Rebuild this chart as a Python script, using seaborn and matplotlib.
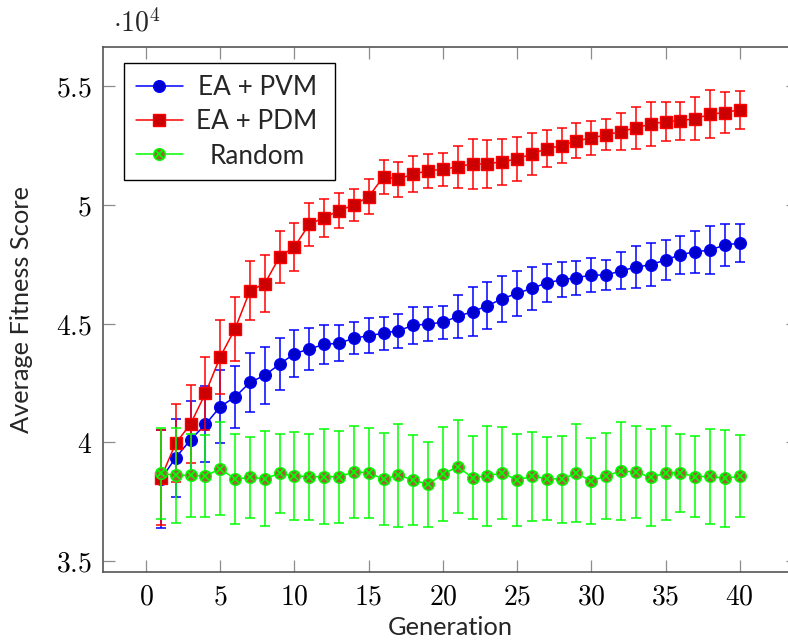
import numpy as np
import pandas as pd
import matplotlib
matplotlib.use("Agg")
import matplotlib.pyplot as plt
import seaborn as sns
from matplotlib.ticker import FuncFormatter
from matplotlib.offsetbox import HPacker, DrawingArea

# ---------------- data (average fitness) ----------------
generations = list(range(1, 41))

pvm_mean = [38450, 39350, 40110, 40750, 41500, 41910, 42520, 42820, 43290, 43730,
            43930, 44120, 44170, 44380, 44490, 44590, 44700, 44920, 44980, 45050,
            45300, 45500, 45750, 46040, 46270, 46480, 46710, 46840, 46930, 47040,
            47040, 47220, 47370, 47480, 47670, 47900, 48020, 48090, 48310, 48380]
pvm_err = [2050, 1650, 1630, 1600, 1550, 1300, 1250, 1200, 1100, 1000,
           880, 820, 750, 670, 750, 700, 720, 770, 720, 700,
           900, 1040, 1000, 970, 940, 900, 800, 730, 720, 720,
           650, 770, 880, 920, 830, 800, 880, 1000, 880, 800]

pdm_mean = [38500, 39960, 40770, 42060, 43600, 44780, 46380, 46680, 47810, 48230,
            49180, 49460, 49750, 49990, 50340, 51180, 51080, 51290, 51430, 51490,
            51600, 51720, 51720, 51810, 51930, 52140, 52360, 52490, 52690, 52810,
            52940, 53080, 53240, 53390, 53500, 53540, 53620, 53810, 53880, 54000]
pdm_err = [2000, 1650, 1630, 1540, 1550, 1350, 1240, 1200, 1100, 1000,
           900, 800, 750, 680, 750, 720, 740, 770, 720, 700,
           890, 1050, 1000, 970, 940, 900, 790, 720, 740, 720,
           650, 770, 880, 920, 830, 800, 900, 1000, 870, 800]

rnd_mean = [38690, 38610, 38610, 38580, 38890, 38450, 38520, 38470, 38690, 38580,
            38550, 38550, 38550, 38750, 38720, 38450, 38620, 38410, 38230, 38660,
            38970, 38510, 38590, 38710, 38410, 38570, 38470, 38450, 38690, 38370,
            38590, 38790, 38750, 38520, 38710, 38720, 38550, 38570, 38480, 38570]
rnd_err = [1900, 2000, 1760, 1730, 1970, 1900, 1700, 2000, 1680, 1850,
           1800, 2000, 1940, 1920, 1900, 1950, 2170, 1900, 1800, 1970,
           1960, 1740, 2100, 1940, 1920, 1870, 1740, 1830, 2060, 1800,
           1820, 2060, 1940, 2040, 1990, 1650, 1700, 1990, 2040, 1720]

series_names = ["EA + PVM", "EA + PDM", "Random"]
x_ticks = [0, 5, 10, 15, 20, 25, 30, 35, 40]
y_ticks = [35000, 40000, 45000, 50000, 55000]

# ---------------- style ----------------
sns.set_theme(style="ticks")
plt.rcParams['font.family'] = ['Lato', 'DejaVu Sans']
plt.rcParams['mathtext.fontset'] = 'cm'

W, H = 788, 640
fig = plt.figure(figsize=(W / 100, H / 100), dpi=100)
ax_l, ax_r, ax_t, ax_b = 103, 797.6, 47, 572
ax_w, ax_h = ax_r - ax_l, ax_b - ax_t
ax = fig.add_axes([ax_l / W, 1 - ax_b / H, ax_w / W, ax_h / H])

df = pd.DataFrame({
    "Generation": generations * 3,
    "Fitness": pvm_mean + pdm_mean + rnd_mean,
    "Err": pvm_err + pdm_err + rnd_err,
    "Series": [s for s in series_names for _ in generations],
})

styles = {
    "EA + PVM": dict(line="#0000FF", fill="#0000CC", marker="o", ms=8.4),
    "EA + PDM": dict(line="#FF0000", fill="#CC0000", marker="s", ms=8.6),
    "Random": dict(line="#00FF00", fill="#996633", marker="o", ms=8.4),
}

handles = []
for i, name in enumerate(series_names):
    st = styles[name]
    sub = df[df["Series"] == name]
    z = 2 + 3 * i
    ax.errorbar(sub["Generation"], sub["Fitness"], yerr=sub["Err"], fmt="none",
                ecolor=st["line"], elinewidth=1.1, capsize=3.8, capthick=1.1, zorder=z)
    sns.lineplot(data=sub, x="Generation", y="Fitness", ax=ax, color=st["line"],
                 lw=1.1, marker=st["marker"], markersize=st["ms"],
                 markerfacecolor=st["fill"], markeredgecolor=st["line"],
                 markeredgewidth=1.0, legend=False, zorder=z + 1, errorbar=None)
    main_line = ax.lines[-1]
    if name == "Random":
        sns.lineplot(data=sub, x="Generation", y="Fitness", ax=ax, color=st["line"],
                     lw=0, marker="x", markersize=5.8, markeredgecolor=st["line"],
                     markeredgewidth=1.3, legend=False, zorder=z + 2, errorbar=None)
        handles.append((main_line, ax.lines[-1]))
    else:
        handles.append(main_line)

# ---------------- axes ----------------
ax.set_xlim(-2.9, 43.9)
ax.set_ylim(34540, 56640)
ax.set_xticks(x_ticks)
ax.set_yticks(y_ticks)
ax.xaxis.set_major_formatter(FuncFormatter(lambda v, p: f"${v:g}$"))
ax.yaxis.set_major_formatter(FuncFormatter(lambda v, p: f"${v / 1e4:g}$"))
ax.tick_params(axis="both", which="both", direction="in", top=True, right=True,
               length=8.5, width=0.9, color="#8c8c8c", labelsize=20, pad=8,
               labelcolor="black")
for sp in ax.spines.values():
    sp.set_color("#555555")
    sp.set_linewidth(1.2)
    sp.set_visible(True)

ax.set_xlabel("Generation", fontsize=18.3)
ax.set_ylabel("Average Fitness Score", fontsize=18.3)
ax.yaxis.set_label_coords((33 - ax_l) / ax_w, 0.5)
ax.xaxis.set_label_coords(0.5, (ax_b - 616) / ax_h)
fig.text(113 / W, 1 - 32 / H, r"$\cdot 10^{4}$", fontsize=20, ha="left", va="baseline")

leg_fs = 18.8
leg = ax.legend(handles=handles, labels=series_names, loc="upper left",
                bbox_to_anchor=((124 - ax_l) / ax_w, 1 - (63 - ax_t) / ax_h),
                borderaxespad=0, frameon=True, fancybox=False, framealpha=1,
                edgecolor="black", fontsize=leg_fs, handlelength=1.8, handletextpad=0.3,
                borderpad=0.45, labelspacing=0.36, numpoints=1)
leg.get_frame().set_linewidth(1.0)

# centre the legend texts in a text column as wide as in the reference
fig.canvas.draw()
renderer = fig.canvas.get_renderer()
px2pt = 72 / fig.dpi
col_px = 133
rows = []
for col in leg._legend_handle_box.get_children():
    rows.extend(col.get_children())
for row, txt in zip(rows, leg.texts):
    w = txt.get_window_extent(renderer).width
    gap = max(col_px - w, 0) / 2 * px2pt
    ta = row._children[1]
    row._children[1] = HPacker(pad=0, sep=0, align="baseline",
                               children=[DrawingArea(gap, 0), ta, DrawingArea(gap, 0)])

fig.savefig("out.png", dpi=100)
